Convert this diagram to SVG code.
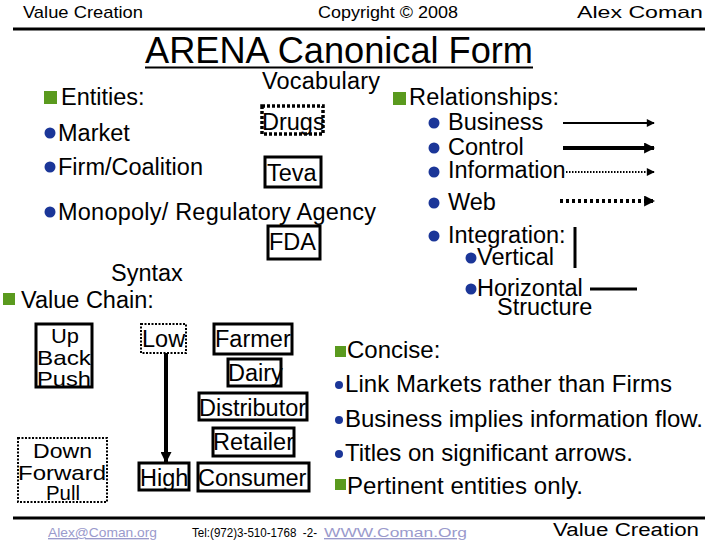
<svg xmlns="http://www.w3.org/2000/svg" width="720" height="540" viewBox="0 0 720 540">
<defs>
<style>
text{font-family:"Liberation Sans",Arial,sans-serif;fill:#000}
.b{font-size:23.5px}
.s{font-size:21px}
.c{font-size:24px}
.h{font-size:17px}
.f{font-size:13.5px}
.lnk{fill:#9a9acc;text-decoration:underline}
.box{fill:#fff;stroke:#000;stroke-width:3}
.dbox{fill:#fff;stroke:#000;stroke-width:2;stroke-dasharray:2 1.5}
.gsq{fill:#5a9a1e}
.blt{fill:#1b3698}
.rule{stroke:#000;stroke-width:3}
</style>
<marker id="ah" viewBox="0 0 10 10" refX="9" refY="5" markerWidth="9" markerHeight="8" markerUnits="userSpaceOnUse" orient="auto"><path d="M0,0L10,5L0,10z" fill="#000"/></marker>
<marker id="ahb" viewBox="0 0 10 10" refX="9" refY="5" markerWidth="11" markerHeight="11" markerUnits="userSpaceOnUse" orient="auto"><path d="M0,0L10,5L0,10z" fill="#000"/></marker>
</defs>
<rect width="720" height="540" fill="#fff"/>

<g id="header">
<text class="h" x="23" y="18" textLength="120" lengthAdjust="spacingAndGlyphs">Value Creation</text>
<text class="h" x="318" y="18" textLength="140" lengthAdjust="spacingAndGlyphs">Copyright © 2008</text>
<text class="h" x="577" y="18" textLength="126" lengthAdjust="spacingAndGlyphs">Alex Coman</text>
<line class="rule" x1="13" y1="29" x2="705" y2="29"/>
<text x="145" y="63" font-size="36" textLength="388" lengthAdjust="spacingAndGlyphs">ARENA Canonical Form</text>
<line x1="145" y1="67.5" x2="533" y2="67.5" stroke="#000" stroke-width="2"/>
</g>

<g id="vocabulary">
<text class="b" x="262" y="89" textLength="118">Vocabulary</text>
<rect class="gsq" x="44" y="91" width="13" height="13"/>
<text class="b" x="61" y="105">Entities:</text>
<circle class="blt" cx="50" cy="133" r="5.5"/>
<text class="b" x="58" y="141">Market</text>
<circle class="blt" cx="50" cy="167" r="5.5"/>
<text class="b" x="58" y="175">Firm/Coalition</text>
<circle class="blt" cx="50" cy="212" r="5.5"/>
<text class="b" x="58" y="220" textLength="318">Monopoly/ Regulatory Agency</text>
</g>

<g id="drugs">
<rect x="262" y="106" width="61" height="28" fill="#fff" stroke="#000" stroke-width="3.5" stroke-dasharray="3 2"/>
<text class="b" x="262" y="130">Drugs</text>
</g>
<g id="teva">
<rect class="box" x="265" y="157" width="56" height="30"/>
<text class="b" x="267" y="181">Teva</text>
</g>
<g id="fda">
<rect class="box" x="268" y="226" width="52" height="33"/>
<text class="b" x="269" y="250">FDA</text>
</g>

<g id="relationships">
<rect class="gsq" x="393" y="92" width="13" height="13"/>
<text class="b" x="409" y="105" textLength="150">Relationships:</text>
<circle class="blt" cx="434" cy="123" r="5.5"/>
<text class="b" x="448" y="130">Business</text>
<circle class="blt" cx="434" cy="148" r="5.5"/>
<text class="b" x="448" y="155">Control</text>
<circle class="blt" cx="434" cy="172" r="5.5"/>
<text class="b" x="448" y="178">Information</text>
<circle class="blt" cx="434" cy="203" r="5.5"/>
<text class="b" x="448" y="210">Web</text>
<circle class="blt" cx="434" cy="236" r="5.5"/>
<text class="b" x="448" y="243">Integration:</text>
<circle class="blt" cx="471" cy="258" r="5.5"/>
<text class="b" x="477" y="265">Vertical</text>
<circle class="blt" cx="471" cy="289" r="5.5"/>
<text class="b" x="477" y="296">Horizontal</text>
<text class="b" x="497" y="315">Structure</text>
</g>

<g id="syntax">
<text class="b" x="111" y="281">Syntax</text>
<rect class="gsq" x="3" y="293" width="12" height="12"/>
<text class="b" x="21" y="308">Value Chain:</text>
</g>

<g id="upbackpush">
<rect class="box" x="36" y="324" width="56" height="63"/>
<text class="s" x="51" y="343" textLength="28" lengthAdjust="spacingAndGlyphs">Up</text>
<text class="s" x="37" y="365" textLength="54" lengthAdjust="spacingAndGlyphs">Back</text>
<text class="s" x="37" y="386" textLength="54" lengthAdjust="spacingAndGlyphs">Push</text>
</g>
<g id="downforwardpull">
<rect class="dbox" x="18" y="438" width="89" height="64"/>
<text class="s" x="33" y="458" textLength="59" lengthAdjust="spacingAndGlyphs">Down</text>
<text class="s" x="18" y="480" textLength="88" lengthAdjust="spacingAndGlyphs">Forward</text>
<text class="s" x="46" y="500" textLength="34" lengthAdjust="spacingAndGlyphs">Pull</text>
</g>
<g id="low">
<rect class="dbox" x="141" y="324" width="45" height="29"/>
<text class="b" x="142" y="347">Low</text>
</g>
<g id="high">
<rect class="box" x="139" y="463" width="50" height="27"/>
<text class="b" x="140" y="486">High</text>
</g>
<g id="farmer">
<rect class="box" x="214" y="324" width="78" height="30"/>
<text class="b" x="215" y="347">Farmer</text>
</g>
<g id="dairy">
<rect class="box" x="228" y="359" width="53" height="27"/>
<text class="b" x="228" y="381">Dairy</text>
</g>
<g id="distributor">
<rect class="box" x="199" y="393" width="108" height="27"/>
<text class="b" x="199" y="416">Distributor</text>
</g>
<g id="retailer">
<rect class="box" x="213" y="428" width="81" height="28"/>
<text class="b" x="213" y="450">Retailer</text>
</g>
<g id="consumer">
<rect class="box" x="198" y="463" width="111" height="28"/>
<text class="b" x="198" y="486">Consumer</text>
</g>

<g id="concise">
<rect class="gsq" x="335" y="346" width="11" height="11"/>
<text class="c" x="347" y="358">Concise:</text>
<circle class="blt" cx="339" cy="385" r="4"/>
<text class="c" x="345" y="392" textLength="327">Link Markets rather than Firms</text>
<circle class="blt" cx="339" cy="420" r="4"/>
<text class="c" x="345" y="427" textLength="358">Business implies information flow.</text>
<circle class="blt" cx="339" cy="454" r="4"/>
<text class="c" x="345" y="461" textLength="288">Titles on significant arrows.</text>
<rect class="gsq" x="335" y="479" width="11" height="11"/>
<text class="c" x="347" y="494" textLength="236">Pertinent entities only.</text>
</g>

<g id="connectors">
<line x1="563" y1="123" x2="654" y2="123" stroke="#000" stroke-width="2" marker-end="url(#ah)"/>
<line x1="563" y1="148" x2="654" y2="148" stroke="#000" stroke-width="4" marker-end="url(#ahb)"/>
<line x1="566" y1="172" x2="654" y2="172" stroke="#000" stroke-width="2" stroke-dasharray="1.5 1.5" marker-end="url(#ah)"/>
<line x1="560" y1="201" x2="654" y2="201" stroke="#000" stroke-width="4" stroke-dasharray="3 3" marker-end="url(#ahb)"/>
<line x1="575" y1="227" x2="575" y2="268" stroke="#000" stroke-width="3"/>
<line x1="590" y1="289" x2="637" y2="289" stroke="#000" stroke-width="3"/>
<line x1="166" y1="353" x2="166" y2="462" stroke="#000" stroke-width="4" marker-end="url(#ahb)"/>
</g>

<g id="footer">
<line class="rule" x1="13" y1="518" x2="705" y2="518"/>
<text class="f lnk" x="48" y="537" textLength="109" lengthAdjust="spacingAndGlyphs">Alex@Coman.org</text>
<text class="f" x="192" y="537" textLength="125" lengthAdjust="spacingAndGlyphs" xml:space="preserve">Tel:(972)3-510-1768  -2-</text>
<text class="f lnk" x="324" y="537" textLength="143" lengthAdjust="spacingAndGlyphs">WWW.Coman.Org</text>
<text x="553" y="536" font-size="18" textLength="146" lengthAdjust="spacingAndGlyphs">Value Creation</text>
</g>
</svg>
